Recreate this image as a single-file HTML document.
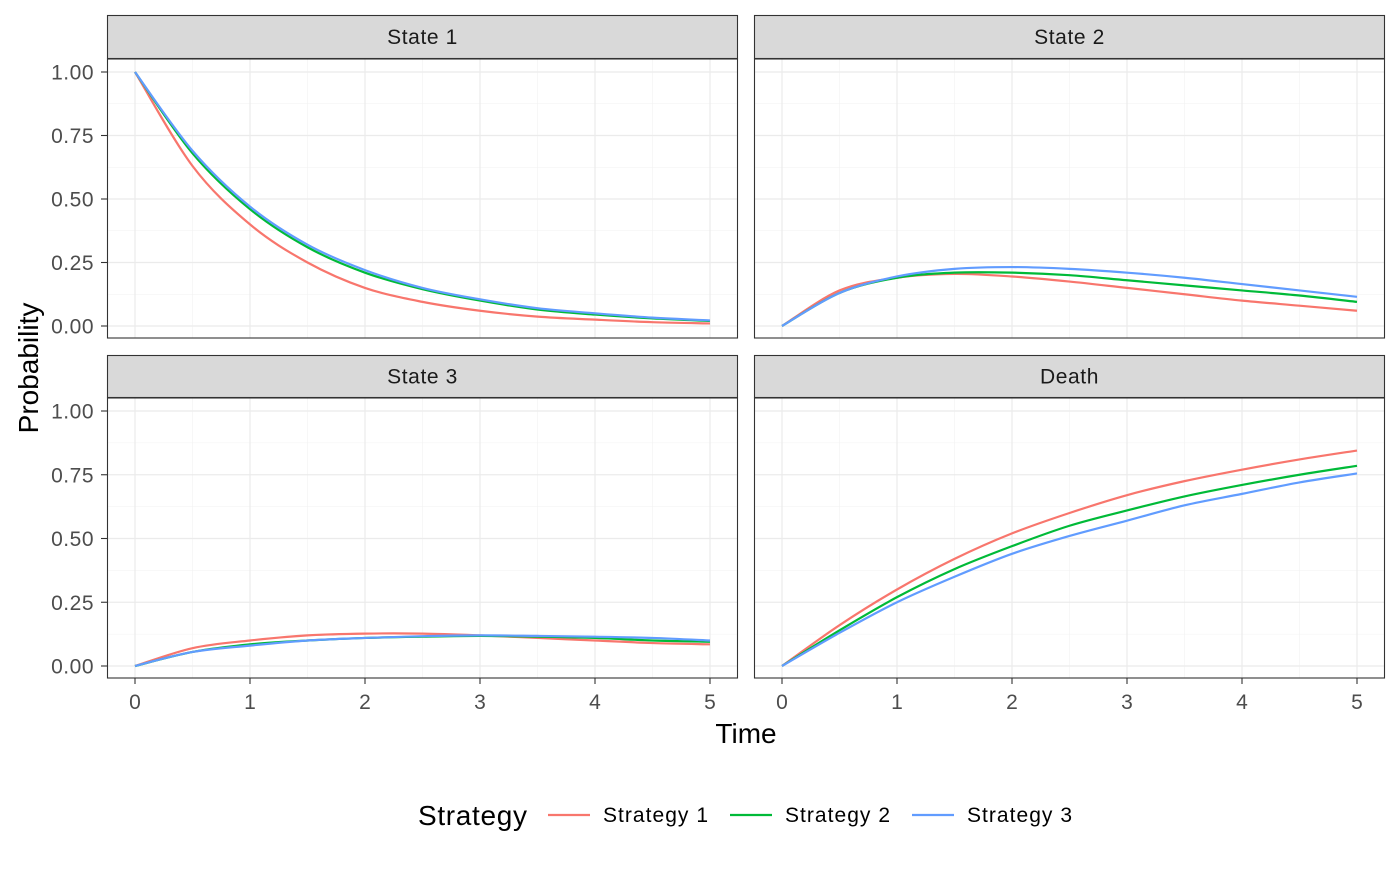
<!DOCTYPE html>
<html><head><meta charset="utf-8"><style>
body{margin:0;background:#fff;}
svg text{font-family:"Liberation Sans",Arial,sans-serif;}
</style></head><body>
<svg id="chart" width="1400" height="866" xmlns="http://www.w3.org/2000/svg"></svg>
<script>
const times=[0,0.5,1,1.5,2,2.5,3,3.5,4,4.5,5];
const panelTitles=["State 1","State 2","State 3","Death"];
const strategies=["Strategy 1","Strategy 2","Strategy 3"];
const colors=["#F8766D","#00BA38","#619CFF"];
const state1S1=[1,0.63,0.40,0.25,0.15,0.095,0.06,0.037,0.025,0.015,0.01];
const state1S2=[1,0.68,0.46,0.31,0.21,0.145,0.10,0.065,0.045,0.03,0.02];
const state1S3=[1,0.69,0.47,0.32,0.22,0.15,0.105,0.07,0.05,0.033,0.022];
const state2S1=[0,0.14,0.19,0.205,0.195,0.175,0.15,0.125,0.10,0.08,0.06];
const state2S2=[0,0.13,0.19,0.21,0.21,0.20,0.18,0.16,0.14,0.12,0.095];
const state2S3=[0,0.13,0.195,0.225,0.232,0.225,0.21,0.19,0.165,0.14,0.115];
const state3S1=[0,0.07,0.10,0.12,0.127,0.127,0.12,0.11,0.10,0.09,0.085];
const state3S2=[0,0.055,0.085,0.10,0.11,0.115,0.118,0.115,0.11,0.10,0.095];
const state3S3=[0,0.055,0.08,0.10,0.11,0.117,0.12,0.118,0.115,0.11,0.10];
const deathS1=[0,0.16,0.30,0.42,0.52,0.60,0.67,0.725,0.77,0.81,0.845];
const deathS2=[0,0.14,0.27,0.38,0.47,0.55,0.61,0.665,0.71,0.75,0.785];
const deathS3=[0,0.13,0.25,0.35,0.44,0.51,0.57,0.63,0.675,0.72,0.755];
const xTicks=[0,1,2,3,4,5];
const yTicks=[0,0.25,0.5,0.75,1];
const yTickLabels=["0.00","0.25","0.50","0.75","1.00"];
const series=[[state1S1,state1S2,state1S3],[state2S1,state2S2,state2S3],[state3S1,state3S2,state3S3],[deathS1,deathS2,deathS3]];

const svg=document.getElementById('chart');
const NS="http://www.w3.org/2000/svg";
function mk(tag,attrs,parent){const e=document.createElementNS(NS,tag);for(const k in attrs)e.setAttribute(k,attrs[k]);(parent||svg).appendChild(e);return e;}
const panels=[{x0:107,x1:738,sy:15,py0:59,py1:338},{x0:754,x1:1385,sy:15,py0:59,py1:338},{x0:107,x1:738,sy:355,py0:398,py1:678},{x0:754,x1:1385,sy:355,py0:398,py1:678}];
function smooth(pts){let d=`M${pts[0][0]},${pts[0][1]}`;for(let i=0;i<pts.length-1;i++){const p0=pts[Math.max(0,i-1)],p1=pts[i],p2=pts[i+1],p3=pts[Math.min(pts.length-1,i+2)];const c1=[p1[0]+(p2[0]-p0[0])/6,p1[1]+(p2[1]-p0[1])/6],c2=[p2[0]-(p3[0]-p1[0])/6,p2[1]-(p3[1]-p1[1])/6];d+=`C${c1[0]},${c1[1]} ${c2[0]},${c2[1]} ${p2[0]},${p2[1]}`;}return d;}
panels.forEach((p,pi)=>{
  const g=mk('g',{});
  
  
  const w=p.x1-p.x0;const xs=t=>p.x0+28+t*(w-56)/5;
  const h=p.py1-p.py0;
  const Y=v=>(p.py1-12)-v*(h-25);
  mk('rect',{x:p.x0,y:p.py0,width:w,height:h,fill:'#fff'},g);
  for(let t=0.5;t<5;t+=1)mk('line',{x1:xs(t),x2:xs(t),y1:p.py0,y2:p.py1,stroke:'#F2F2F2','stroke-width':0.6},g);
  for(let v=0.125;v<1;v+=0.25)mk('line',{x1:p.x0,x2:p.x1,y1:Y(v),y2:Y(v),stroke:'#F2F2F2','stroke-width':0.6},g);
  xTicks.forEach(t=>mk('line',{x1:xs(t),x2:xs(t),y1:p.py0,y2:p.py1,stroke:'#EBEBEB','stroke-width':1.2},g));
  yTicks.forEach(v=>mk('line',{x1:p.x0,x2:p.x1,y1:Y(v),y2:Y(v),stroke:'#EBEBEB','stroke-width':1.2},g));
  series[pi].forEach((vals,si)=>{
    const path=mk('path',{d:smooth(vals.map((v,i)=>[xs(times[i]),Y(v)])),fill:'none',stroke:colors[si],'stroke-width':2.2},g);
    
    
  });
  mk('rect',{x:p.x0+0.5,y:p.py0,width:w-1,height:h,fill:'none',stroke:'#333','stroke-width':1.1},g);
  const st=mk('rect',{x:p.x0+0.5,y:p.sy+0.5,width:w-1,height:p.py0-p.sy-1,fill:'#D9D9D9',stroke:'#333','stroke-width':1.1},g);
  
  const tt=mk('text',{x:(p.x0+p.x1)/2,y:(p.sy+p.py0)/2+7,'text-anchor':'middle','font-size':21,'letter-spacing':0.6,fill:'#1A1A1A'},g);tt.textContent=panelTitles[pi];
  
  if(pi%2===0){yTicks.forEach((v,i)=>{mk('line',{x1:p.x0-6,x2:p.x0,y1:Y(v),y2:Y(v),stroke:'#333','stroke-width':1.1},g);const t=mk('text',{x:p.x0-13,y:Y(v)+7.5,'text-anchor':'end','font-size':21,'letter-spacing':0.5,fill:'#4D4D4D'},g);t.textContent=yTickLabels[i];});}
  if(pi>=2){xTicks.forEach(v=>{mk('line',{x1:xs(v),x2:xs(v),y1:p.py1,y2:p.py1+6,stroke:'#333','stroke-width':1.1},g);const t=mk('text',{x:xs(v),y:p.py1+31,'text-anchor':'middle','font-size':21,fill:'#4D4D4D'},g);t.textContent=v;});}
});
const yt=mk('text',{x:0,y:0,transform:'translate(38,368) rotate(-90)','text-anchor':'middle','font-size':28,fill:'#000'});yt.textContent='Probability';

const xt=mk('text',{x:746,y:743,'text-anchor':'middle','font-size':28,fill:'#000'});xt.textContent='Time';

const lt=mk('text',{x:418,y:825,'font-size':28,'textLength':109,fill:'#000'});lt.textContent='Strategy';

const lx=[548,730,912];
strategies.forEach((s,i)=>{
  const g=mk('g',{});
  
  
  mk('line',{x1:lx[i],x2:lx[i]+42,y1:815,y2:815,stroke:colors[i],'stroke-width':2.2},g);
  const t=mk('text',{x:lx[i]+55,y:822,'font-size':21,'textLength':105,fill:'#000'},g);t.textContent=s;
});
</script>
</body></html>
